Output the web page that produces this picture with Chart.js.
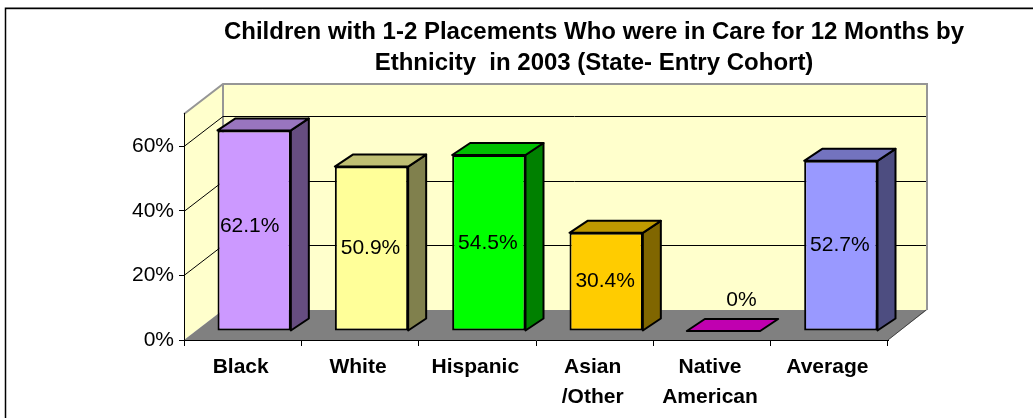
<!DOCTYPE html>
<html><head><meta charset="utf-8">
<style>html,body{margin:0;padding:0;background:#fff}canvas{display:block}</style>
<script src="https://cdn.jsdelivr.net/npm/chart.js@4"></script>
</head><body><canvas id="c" width="1033" height="418"></canvas>
<script>
const categories = [["Black"],["White"],["Hispanic"],["Asian","/Other"],["Native","American"],["Average"]];
const values = [62.1,50.9,54.5,30.4,0,52.7];
const valueLabels = ["62.1%","50.9%","54.5%","30.4%","0%","52.7%"];
const frontColors = ["#CC99FF","#FFFF99","#00FF00","#FFCC00","#C000B0","#9999FF"];
const topColors = ["#9975BF","#BFBF73","#00C000","#BF9900","#C000B0","#7373BF"];
const sideColors = ["#664D80","#80804D","#008000","#806600","#600058","#4D4D80"];
const titleLines = ["Children with 1-2 Placements Who were in Care for 12 Months by","Ethnicity  in 2003 (State- Entry Cohort)"];
const yMax = 70, yStep = 20;

const WALL = {dx:39, dy:30};         // depth of the chart box
const BAR3D = {dx:18, dy:12, sx:11.5, sy:-9};   // depth and inset of the columns

const box3d = {
  id:'box3d',
  beforeDraw(chart){
    const {ctx,chartArea:a,scales:{y}} = chart;
    const W=chart.width,H=chart.height;
    ctx.save();
    ctx.fillStyle='#fff';ctx.fillRect(0,0,W,H);
    // outer frame: left and top edges only reach the picture
    ctx.strokeStyle='#C8C8C8';ctx.lineWidth=1;
    ctx.beginPath();ctx.moveTo(6,9.5);ctx.lineTo(W,9.5);ctx.stroke();
    ctx.strokeStyle='#000';ctx.lineWidth=1.5;
    ctx.beginPath();ctx.moveTo(5.5,H);ctx.lineTo(5.5,8.25);ctx.lineTo(W,8.25);ctx.stroke();
    const L=a.left,R=a.right,T=a.top,B=a.bottom,dx=WALL.dx,dy=WALL.dy;
    const poly=(pts,fill)=>{ctx.beginPath();pts.forEach((p,i)=>i?ctx.lineTo(p[0],p[1]):ctx.moveTo(p[0],p[1]));ctx.closePath();
      ctx.fillStyle=fill;ctx.fill();};
    poly([[L,T],[L+dx,T-dy],[L+dx,B-dy],[L,B]],'#FFFFCC');
    poly([[L+dx,T-dy],[R+dx,T-dy],[R+dx,B-dy],[L+dx,B-dy]],'#FFFFCC');
    poly([[L,B],[L+dx,B-dy],[R+dx,B-dy],[R,B]],'#808080');
    ctx.strokeStyle='#969696';ctx.lineWidth=2;
    ctx.beginPath();ctx.moveTo(L,T);ctx.lineTo(L+dx,T-dy);ctx.lineTo(R+dx,T-dy);ctx.lineTo(R+dx,B-dy);ctx.stroke();
    ctx.beginPath();ctx.moveTo(L+dx,T-dy);ctx.lineTo(L+dx,B-dy);ctx.stroke();
    ctx.lineWidth=1;
    ctx.strokeStyle='#404040';
    ctx.beginPath();ctx.moveTo(R+dx-1,B-dy);ctx.lineTo(R,B);ctx.stroke();
    ctx.strokeStyle='#000';
    y.ticks.forEach(t=>{ if(t.value===0) return;
      const p=Math.round(y.getPixelForValue(t.value))+0.5;
      ctx.beginPath();ctx.moveTo(L,p);ctx.lineTo(L+dx,p-dy);ctx.lineTo(R+dx-1,p-dy);ctx.stroke();
    });
    ctx.restore();
  },
  beforeDatasetDraw(chart){
    const {ctx}=chart;
    ctx.save();
    ctx.translate(BAR3D.sx,BAR3D.sy);
    const dx=BAR3D.dx,dy=BAR3D.dy;
    chart.getDatasetMeta(0).data.forEach((el,i)=>{
      const p=el.getProps(['x','y','base','width'],true);
      const l=p.x-p.width/2,r=p.x+p.width/2,t=p.y,b=p.base;
      ctx.lineJoin='round';ctx.strokeStyle='#000';ctx.lineWidth=2;
      if(b-t>0.5){
        ctx.beginPath();ctx.moveTo(r,t);ctx.lineTo(r+dx,t-dy);ctx.lineTo(r+dx,b-dy);ctx.lineTo(r,b);ctx.closePath();
        ctx.fillStyle=sideColors[i];ctx.fill();ctx.stroke();
      }
      ctx.beginPath();ctx.moveTo(l,t);ctx.lineTo(l+dx,t-dy);ctx.lineTo(r+dx,t-dy);ctx.lineTo(r,t);ctx.closePath();
      ctx.fillStyle=topColors[i];ctx.fill();ctx.stroke();
    });
  },
  afterDatasetDraw(chart){ chart.ctx.restore(); },
  afterDatasetsDraw(chart){
    const {ctx}=chart;
    ctx.save();
    ctx.fillStyle='#000';ctx.font='21px "Liberation Sans", Arial, sans-serif';
    ctx.textAlign='center';ctx.textBaseline='middle';
    chart.getDatasetMeta(0).data.forEach((el,i)=>{
      const p=el.getProps(['x','y','base'],true);
      const zero=values[i]===0;
      const tall=values[i]>60;
      const cx=p.x+BAR3D.sx+(zero?18:tall?-4.5:-1);
      const cy=zero?p.y+BAR3D.sy-31:(p.y+p.base)/2+BAR3D.sy+(tall?-4:0);
      ctx.fillText(valueLabels[i],cx,cy);
    });
    ctx.restore();
  },
  afterLayout(chart){
    // the title is centred over the plot box, not over the page
    chart.titleBlock.left=155; chart.titleBlock.right=1033;
  }
};

new Chart(document.getElementById('c'),{
  type:'bar',
  data:{labels:categories,datasets:[{
    data:values,backgroundColor:frontColors,borderColor:'#000',borderWidth:2,borderSkipped:false,
    categoryPercentage:1,barPercentage:0.625
  }]},
  options:{
    responsive:false,animation:false,
    layout:{padding:{left:0,right:145,top:0,bottom:0}},
    plugins:{
      legend:{display:false},tooltip:{enabled:false},
      title:{display:true,text:titleLines,color:'#000',
        font:{family:'"Liberation Sans", Arial, sans-serif',size:24,weight:'bold',lineHeight:1.29},
        padding:{top:17,bottom:35}}
    },
    scales:{
      x:{
        grid:{drawOnChartArea:false,drawTicks:true,tickLength:6,color:'#000',offset:true},
        border:{color:'#000',width:1},
        ticks:{color:'#000',maxRotation:0,autoSkip:false,padding:6,labelOffset:-2,
          font:{family:'"Liberation Sans", Arial, sans-serif',size:21,weight:'bold',lineHeight:1.43}},
        afterFit(s){s.height=78;}
      },
      y:{
        min:0,max:yMax,
        grid:{drawOnChartArea:false,drawTicks:true,tickLength:5,color:'#000'},
        border:{color:'#000',width:1},
        ticks:{stepSize:yStep,includeBounds:false,color:'#000',padding:5,
          callback:v=>v+'%',
          font:{family:'"Liberation Sans", Arial, sans-serif',size:21}},
        afterFit(s){s.width=184;}
      }
    }
  },
  plugins:[box3d]
});
</script></body></html>
